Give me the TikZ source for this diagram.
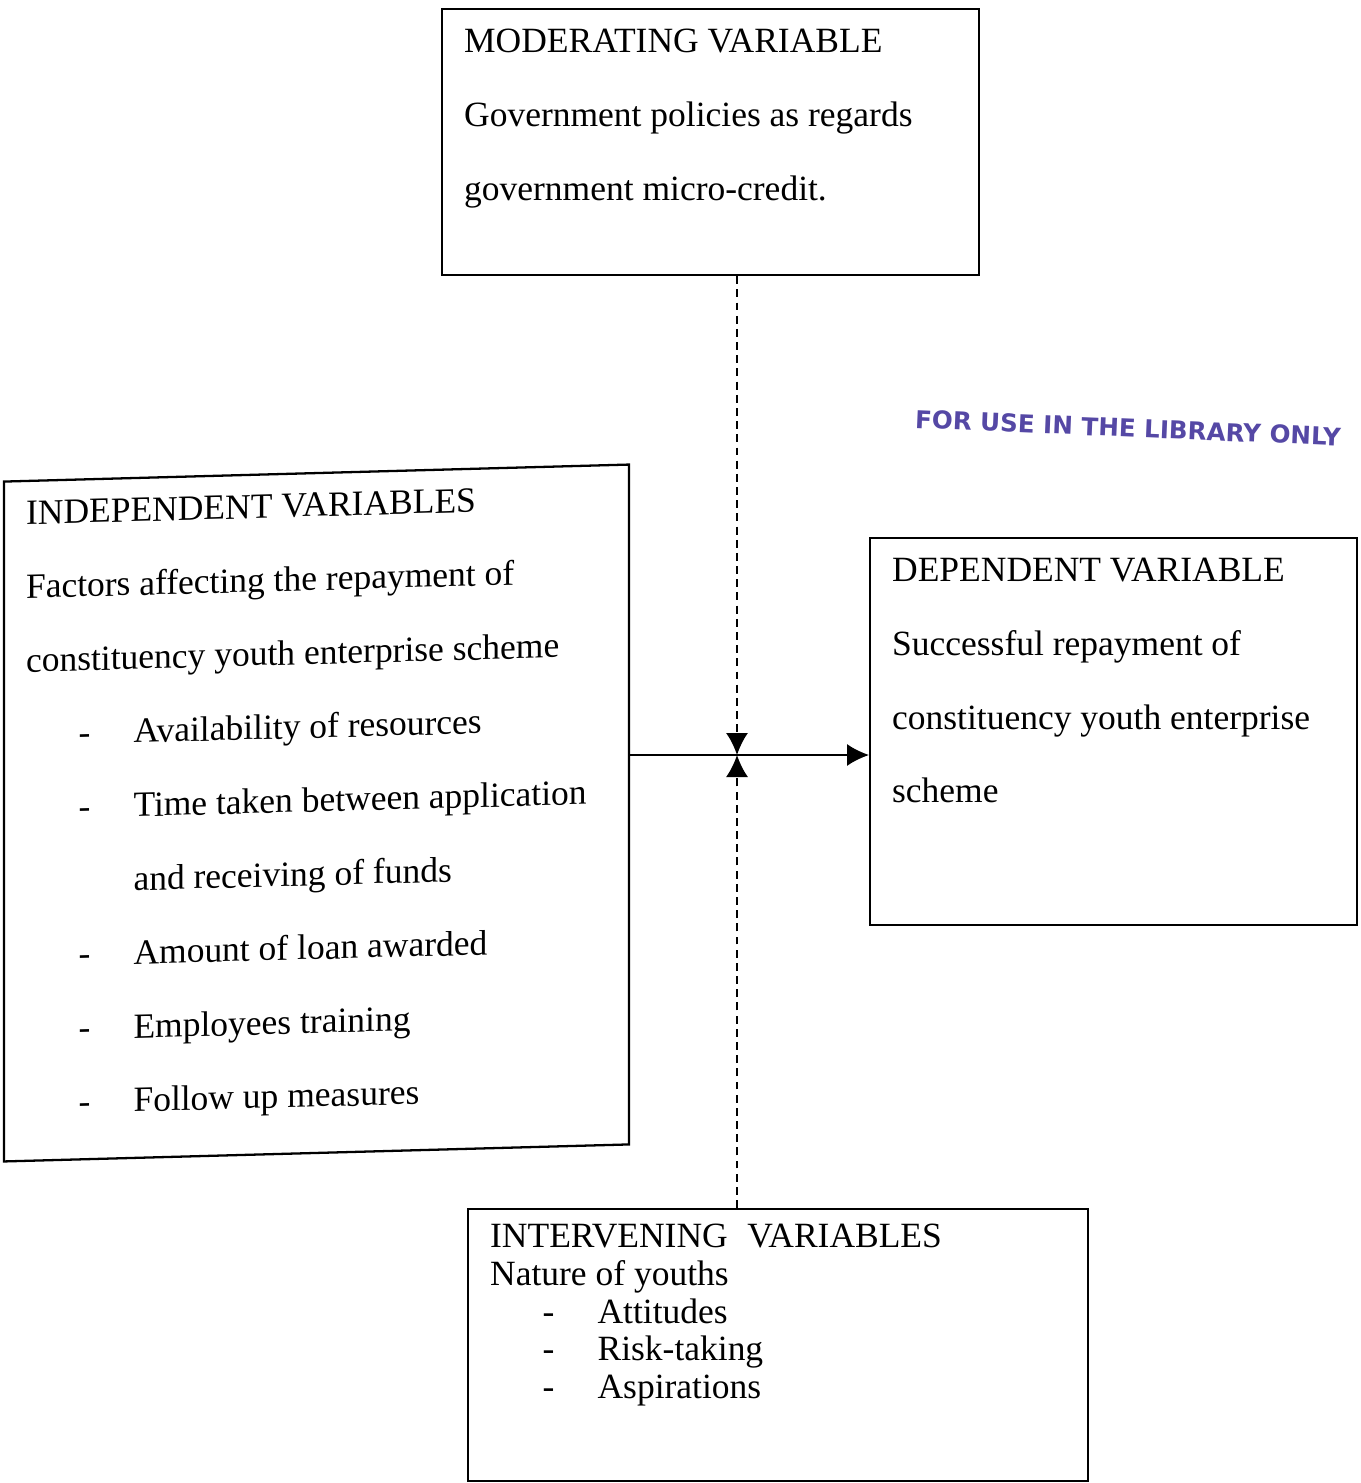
\documentclass[tikz,border=0pt]{standalone}
\usepackage{fontspec}
\setmainfont{Liberation Serif}
\newfontfamily\stampfont{DejaVu Sans}
\usetikzlibrary{arrows.meta}
\definecolor{stampColor}{RGB}{85, 72, 165}

\tikzset{
  varbox/.style={draw, line width=1.3pt, anchor=north west, inner xsep=0.44cm, inner ysep=0.4cm,
    font=\fontsize{20.2}{42}\selectfont},
  link/.style={line width=1pt, -{Latex[length=4.4mm,width=4.4mm]}},
  dashlink/.style={link, dash pattern=on 4.5pt off 3pt}
}
\newcommand{\itm}[1]{\hspace*{1.05cm}\makebox[1.1cm][l]{-}#1}

\begin{document}
\begin{tikzpicture}[x=0.02cm, y=-0.02cm]
    \useasboundingbox (0,0) rectangle (1360,1483);

    % Moderating variable
    \node[varbox] (mod) at (441,8) {\parbox[c][4.52cm][t]{9.86cm}{%
        MODERATING VARIABLE\\
        Government policies as regards\\
        government micro-credit.}};

    % Independent variables (scan is slightly skewed)
    \node[varbox, anchor=center, yslant=0.0272] (indep) at (316.5,813) {\parbox[c][12.8cm][t]{11.62cm}{%
        INDEPENDENT VARIABLES\\
        Factors affecting the repayment of\\
        constituency youth enterprise scheme\\
        \itm{Availability of resources}\\
        \itm{Time taken between application}\\
        \hspace*{2.15cm}and receiving of funds\\
        \itm{Amount of loan awarded}\\
        \itm{Employees training}\\
        \itm{Follow up measures}}};

    % Dependent variable
    \node[varbox] (dep) at (869,537) {\parbox[c][6.94cm][t]{8.86cm}{%
        DEPENDENT VARIABLE\\
        Successful repayment of\\
        constituency youth enterprise\\
        scheme}};

    % Intervening variables
    \node[varbox, font=\fontsize{20.2}{21.5}\selectfont, inner ysep=0.3cm] (interv) at (467,1208) {\parbox[c][4.84cm][t]{11.52cm}{%
        INTERVENING \hspace{0.3em}VARIABLES\\
        Nature of youths\\
        \itm{Attitudes}\\
        \itm{Risk-taking}\\
        \itm{Aspirations}}};

    % Library stamp
    \node[text=stampColor, font=\stampfont\bfseries\fontsize{14}{15}\selectfont, rotate=-2.4] (stamp) at (1128,428)
        {FOR USE IN THE LIBRARY ONLY};

    % Links
    \coordinate (hub) at (737,755);
    \draw[dashlink] (hub |- mod.south) -- (hub);
    \draw[dashlink] (hub |- interv.north) -- (hub);
    \draw[link] (indep.east |- hub) -- (dep.west |- hub);
\end{tikzpicture}
\end{document}
